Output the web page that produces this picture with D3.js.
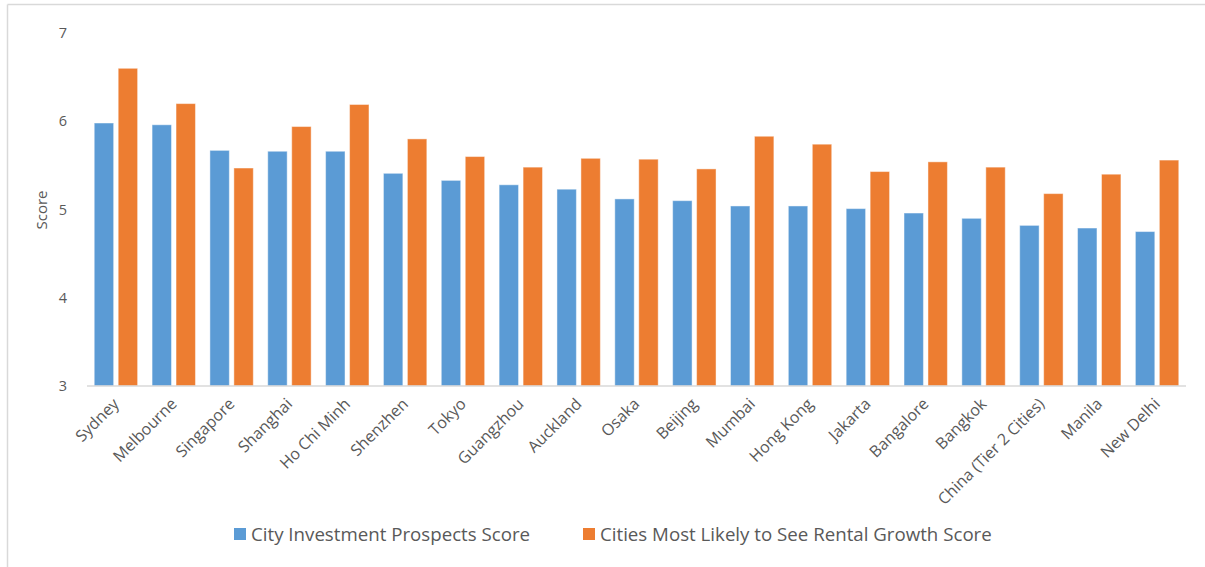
<!DOCTYPE html>
<html>
<head>
<meta charset="utf-8">
<script src="https://cdn.jsdelivr.net/npm/d3@7"></script>
<style>
  html, body { margin: 0; padding: 0; background: #fff; }
  svg { display: block; }
  text { font-family: "Open Sans", "Noto Sans", sans-serif; fill: #595959; }
</style>
</head>
<body>
<svg id="chart" width="1205" height="567"></svg>
<script>
// City scores: investment prospects vs. likelihood of rental growth
const cities = ["Sydney", "Melbourne", "Singapore", "Shanghai", "Ho Chi Minh", "Shenzhen",
  "Tokyo", "Guangzhou", "Auckland", "Osaka", "Beijing", "Mumbai", "Hong Kong", "Jakarta",
  "Bangalore", "Bangkok", "China (Tier 2 Cities)", "Manila", "New Delhi"];
const investmentScores = [5.98, 5.96, 5.67, 5.66, 5.66, 5.41, 5.33, 5.28, 5.23, 5.12,
  5.10, 5.04, 5.04, 5.01, 4.96, 4.90, 4.82, 4.79, 4.75];
const rentalGrowthScores = [6.60, 6.20, 5.47, 5.94, 6.19, 5.80, 5.60, 5.48, 5.58, 5.57,
  5.46, 5.83, 5.74, 5.43, 5.54, 5.48, 5.18, 5.40, 5.56];
const seriesNames = ["City Investment Prospects Score", "Cities Most Likely to See Rental Growth Score"];
const seriesColors = ["#5B9BD5", "#ED7D31"];
const yTicks = [3, 4, 5, 6, 7];
const yLabel = "Score";

const svg = d3.select("#chart");

// outer frame (top and left edges)
svg.append("line").attr("x1", 7.5).attr("x2", 1205).attr("y1", 4.5).attr("y2", 4.5)
  .attr("stroke", "#d9d9d9").attr("stroke-width", 1.5);
svg.append("line").attr("x1", 7.5).attr("x2", 7.5).attr("y1", 4.5).attr("y2", 567)
  .attr("stroke", "#d9d9d9").attr("stroke-width", 1.5);

const plot = { left: 87, right: 1186, top: 33, bottom: 386 };

const x = d3.scaleBand().domain(cities).range([plot.left, plot.right])
  .paddingInner(0.25).paddingOuter(0.125);
const xSub = d3.scaleBand().domain([0, 1]).range([0, x.bandwidth()]).paddingInner(0.19);
const y = d3.scaleLinear().domain([3, 7]).range([plot.bottom, plot.top]);

const rows = cities.map((c, i) => ({ city: c, values: [investmentScores[i], rentalGrowthScores[i]] }));

// bars
const groups = svg.append("g").selectAll("g").data(rows).join("g")
  .attr("transform", d => `translate(${x(d.city)},0)`);
groups.selectAll("rect").data(d => d.values.map((v, k) => ({ v, k }))).join("rect")
  .attr("x", d => xSub(d.k))
  .attr("width", xSub.bandwidth())
  .attr("y", d => y(d.v))
  .attr("height", d => y(3) - y(d.v))
  .attr("fill", d => seriesColors[d.k])
  .attr("stroke", "#ffffff").attr("stroke-opacity", 0.45).attr("stroke-width", 1);

// category axis
const xAxis = svg.append("g").attr("transform", `translate(0,${plot.bottom})`)
  .call(d3.axisBottom(x).tickSize(0).tickPadding(0));
xAxis.attr("font-family", null);
xAxis.select(".domain").attr("stroke", "#d9d9d9").attr("stroke-width", 1.5)
  .attr("d", `M${plot.left},0H${plot.right}`);
xAxis.selectAll(".tick text")
  .attr("font-size", "16px")
  .attr("fill", "#595959")
  .attr("text-anchor", "end")
  .attr("dy", null)
  .attr("y", 0)
  .attr("transform", "translate(4,19) rotate(-45)");

// value axis (labels only)
const yAxis = svg.append("g").attr("transform", `translate(${plot.left},0)`)
  .call(d3.axisLeft(y).tickValues(yTicks).tickFormat(d3.format("d")).tickSize(0).tickPadding(20));
yAxis.attr("font-family", null);
yAxis.select(".domain").remove();
yAxis.selectAll(".tick text").attr("font-size", "14.5px").attr("fill", "#595959");

svg.append("text")
  .attr("transform", `translate(47,210) rotate(-90)`)
  .attr("text-anchor", "middle")
  .attr("font-size", "15px")
  .text(yLabel);

// legend
const legendX = [234, 583];
const legend = svg.append("g").selectAll("g").data(seriesNames).join("g")
  .attr("transform", (d, i) => `translate(${legendX[i]},534)`);
legend.append("rect").attr("x", 0).attr("y", -6).attr("width", 12).attr("height", 12)
  .attr("fill", (d, i) => seriesColors[i]);
legend.append("text").attr("x", 17).attr("y", 0).attr("dy", "0.35em")
  .attr("font-size", "18.7px").text(d => d);
</script>
</body>
</html>
